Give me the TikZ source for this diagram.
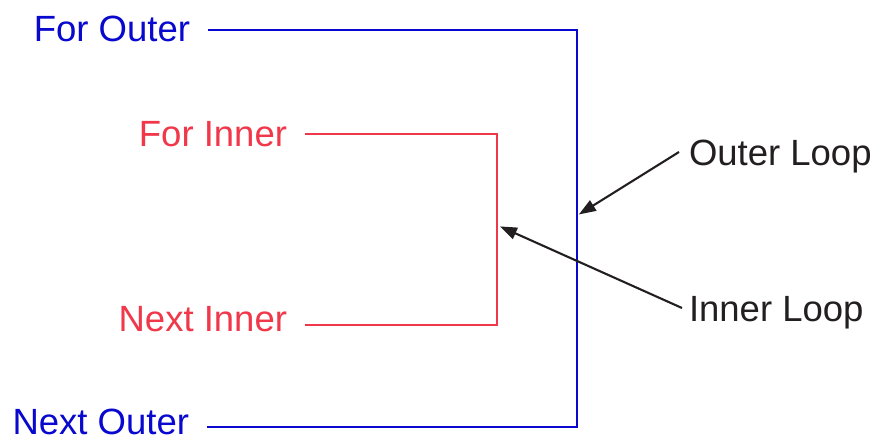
\documentclass[tikz,border=0pt]{standalone}
\usepackage{fontspec}
\setmainfont{Liberation Sans}
\usepackage{tikz}
\usetikzlibrary{arrows.meta}

\definecolor{loopblue}{RGB}{8,8,206}
\definecolor{loopred}{RGB}{240,56,74}
\definecolor{ink}{RGB}{35,31,32}

\begin{document}
\begin{tikzpicture}[
  x=1pt,y=1pt,
  font=\fontsize{36.5}{40}\selectfont,
  lbl/.style={inner sep=0pt,text height=26pt,text depth=0pt},
  kw/.style={lbl,anchor=east,outer xsep=18pt},
  tag/.style={lbl,anchor=west,outer xsep=10pt,text=ink},
  outerln/.style={draw=loopblue,line width=2.8pt},
  innerln/.style={draw=loopred,line width=2.5pt},
  arr/.style={-{Triangle[length=17pt,width=12pt]},draw=ink,line width=2.1pt,shorten >=1pt}
]
\useasboundingbox (0,0) rectangle (877,-439);
% ---------- outer loop ----------
\node[kw,text=loopblue] (forouter)  at (208,-28)    {For Outer};
\node[kw,text=loopblue] (nextouter) at (207,-421.5) {Next Outer};
\coordinate (otr) at (577,-30);
\coordinate (obr) at (577,-427);
\draw[outerln] (forouter.east |- otr) -- (otr) -- (obr) -- (nextouter.east |- obr);
% ---------- inner loop ----------
\node[kw,text=loopred] (forinner)  at (305,-133.5) {For Inner};
\node[kw,text=loopred] (nextinner) at (305,-318.5) {Next Inner};
\coordinate (itr) at (497,-134);
\coordinate (ibr) at (497,-325);
\draw[innerln] (forinner.east |- itr) -- (itr) -- (ibr) -- (nextinner.east |- ibr);
% ---------- callouts ----------
\node[tag] (outerloop) at (679,-152) {Outer Loop};
\node[tag] (innerloop) at (679,-308) {Inner Loop};
\coordinate (outertip) at (578,-215);
\coordinate (innertip) at (499,-226);
\draw[arr] (outerloop.west) -- (outertip);
\draw[arr] ([xshift=3pt]innerloop.west) -- (innertip);
\end{tikzpicture}
\end{document}
